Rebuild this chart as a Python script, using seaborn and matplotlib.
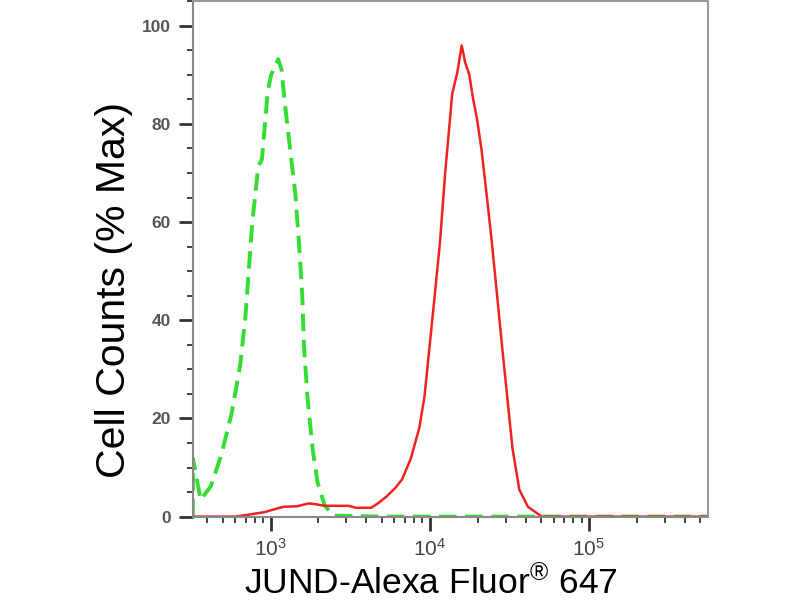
import matplotlib
matplotlib.use("Agg")
import matplotlib.pyplot as plt
import matplotlib.ticker as mticker
import seaborn as sns
import pandas as pd

# Values (intensity, % of max)
control_x = [325, 326, 364, 422, 490, 569, 644, 695, 731, 767, 807, 839, 883, 914,
             962, 1009, 1117, 1172, 1233, 1327, 1432, 1507, 1581, 1622, 1706, 1837,
             1977, 2188, 2477, 5000, 20000, 50000, 560000]
control_y = [0, 11.8, 3.4, 6.2, 12.5, 20.9, 30.7, 40.5, 50.4, 59.5, 66.5, 71.4, 72.8,
             78.4, 86.8, 90.0, 93.2, 91.1, 84.0, 74.9, 65.8, 56.0, 45.5, 34.9, 24.4,
             13.9, 6.9, 2.3, 0.2, 0, 0, 0, 0]

jund_x = [325, 598, 731, 914, 1202, 1466, 1746, 1932, 2188, 2415, 3105, 3428, 4285,
          4732, 5358, 6067, 6714, 7603, 8610, 9268, 10000, 10789, 11614, 12503,
          13490, 13836, 14894, 15888, 16711, 17742, 18664, 19770, 21135, 22751,
          24547, 26424, 28445, 30690, 33113, 36559, 41400, 50582, 560000]
jund_y = [0, 0, 0.4, 0.9, 2.0, 2.1, 2.7, 2.5, 2.2, 2.2, 2.2, 1.8, 1.8, 2.7, 4.1, 5.8,
          7.6, 11.8, 18.1, 24.4, 34.9, 45.5, 56.0, 70.0, 81.9, 86.1, 90.4, 96.0,
          92.5, 90.0, 85.4, 81.2, 74.9, 65.8, 56.0, 45.5, 34.9, 24.4, 13.9, 5.5,
          2.0, 0, 0]

sns.set_style("white")
plt.rcParams["font.family"] = ["Liberation Sans", "DejaVu Sans"]
plt.rcParams["mathtext.fontset"] = "custom"
plt.rcParams["mathtext.rm"] = "Liberation Sans"
plt.rcParams["mathtext.it"] = "Liberation Sans"
plt.rcParams["mathtext.bf"] = "Liberation Sans:bold"

control = pd.DataFrame({"x": control_x, "y": control_y})
jund = pd.DataFrame({"x": jund_x, "y": jund_y})

fig = plt.figure(figsize=(8, 6), dpi=100)
ax = fig.add_axes([0.241, 0.139, 0.644, 0.859])

sns.lineplot(data=control, x="x", y="y", ax=ax, color="#33dd33", linewidth=2.8,
             linestyle=(0, (4.5, 2.2)), sort=False)
sns.lineplot(data=jund, x="x", y="y", ax=ax, color="#ee2222", linewidth=1.8, sort=False)

ax.set_xscale("log")
ax.set_xlim(325, 560000)
ax.set_ylim(0, 105)

ax.yaxis.set_major_locator(mticker.MultipleLocator(20))
ax.yaxis.set_minor_locator(mticker.MultipleLocator(5))
ax.xaxis.set_major_locator(mticker.LogLocator(base=10))
ax.xaxis.set_minor_locator(mticker.LogLocator(base=10, subs=range(2, 10)))
ax.xaxis.set_minor_formatter(mticker.NullFormatter())

ax.tick_params(axis="both", which="major", direction="out", length=10, width=2,
               color="#333333", labelcolor="#444444", pad=6)
ax.tick_params(axis="y", which="major", labelsize=12.5)
ax.tick_params(axis="x", which="major", labelsize=15, pad=5)
ax.tick_params(axis="both", which="minor", direction="out", length=4.5, width=1.3,
               color="#333333")
ax.tick_params(axis="both", bottom=True, left=True, which="both")
for lab in ax.get_yticklabels():
    lab.set_fontweight("bold")
    lab.set_color("#555555")

for side in ["top", "right"]:
    ax.spines[side].set_color("#999999")
    ax.spines[side].set_linewidth(1.5)
for side in ["left", "bottom"]:
    ax.spines[side].set_color("#888888")
    ax.spines[side].set_linewidth(1.5)

ax.set_ylabel("Cell Counts (% Max)", fontsize=29.5, color="black")
ax.yaxis.set_label_coords(-0.116, 0.44)
ax.set_xlabel("JUND-Alexa Fluor$^{\\mathrm{®}}$ 647", fontsize=25.5, color="black")
ax.xaxis.set_label_coords(0.462, -0.093)

fig.savefig("out.png", dpi=100, facecolor="white")
